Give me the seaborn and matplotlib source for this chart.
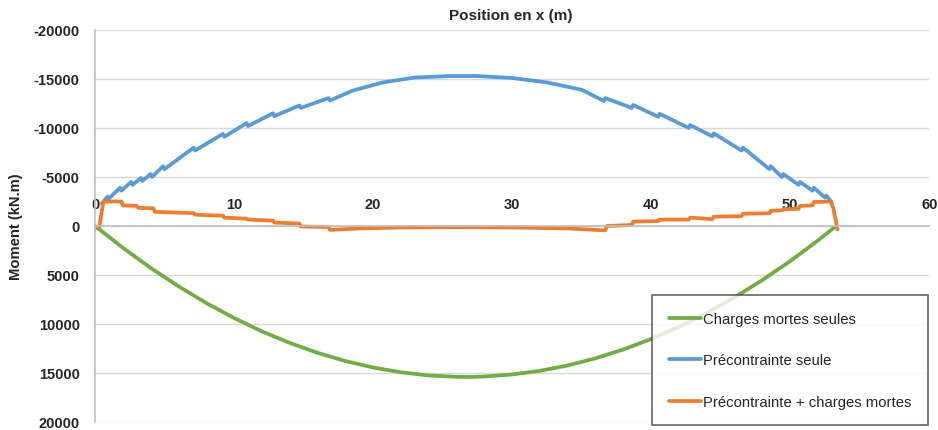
import pandas as pd
import matplotlib
matplotlib.use("Agg")
import matplotlib.pyplot as plt
import seaborn as sns

# values (x in m, moment in kN.m)
green_x = [0, 2, 4, 6, 8, 10, 12, 14, 16, 18, 20, 22, 24, 26, 27, 28, 30, 32,
           34, 36, 38, 40, 42, 44, 46, 48, 50, 52, 53.3]
green_y = [0, 2220, 4280, 6150, 7860, 9390, 10750, 11930, 12940, 13780, 14440,
           14930, 15250, 15390, 15400, 15360, 15150, 14780, 14230, 13500, 12600,
           11530, 10290, 8870, 7280, 5520, 3580, 1470, 0]

blue_x = [0.5, 0.9, 1.0, 1.8, 1.9, 2.6, 2.7, 3.3, 3.4, 4.0, 4.1, 4.9, 5.0, 7.1,
          7.2, 9.2, 9.3, 10.9, 11.0, 12.8, 12.9, 14.7, 14.8, 16.8, 16.9, 18.5,
          20.7, 23.0, 25.5, 27.5, 30.0, 32.5, 35.0, 36.6, 36.7, 38.6, 38.7,
          40.5, 40.6, 42.7, 42.8, 44.4, 44.5, 46.5, 46.6, 48.5, 48.6, 49.4,
          49.5, 50.6, 50.7, 51.6, 51.7, 52.5, 52.6, 53.0]
blue_y = [-2300, -3000, -2800, -3900, -3600, -4500, -4200, -4900, -4600, -5300,
          -5000, -6100, -5800, -8000, -7700, -9400, -9100, -10500, -10200,
          -11500, -11200, -12300, -12050, -13050, -12800, -13800, -14650,
          -15150, -15300, -15300, -15100, -14650, -13900, -12750, -13050,
          -12050, -12350, -11150, -11450, -10000, -10300, -9150, -9450, -7700,
          -8000, -5800, -6100, -5000, -5300, -4200, -4500, -3600, -3900, -2900,
          -3100, -2400]

orange_x = [0.0, 0.3, 0.6, 1.9, 2.0, 3.0, 3.1, 4.2, 4.3, 7.1, 7.2, 9.2, 9.3,
            10.9, 11.0, 12.8, 12.9, 14.7, 14.8, 16.8, 16.9, 19.0, 22.0, 26.0,
            30.0, 34.0, 36.7, 36.8, 38.6, 38.7, 40.5, 40.6, 42.7, 42.8, 44.4,
            44.5, 46.5, 46.6, 48.5, 48.6, 49.4, 49.5, 50.6, 50.7, 51.6, 51.7,
            52.9, 53.1, 53.4]
orange_y = [250, 150, -2500, -2500, -2100, -2050, -1850, -1800, -1450, -1300,
            -1150, -1050, -850, -750, -650, -550, -350, -250, 50, 100, 400, 250,
            150, 120, 150, 250, 450, 0, -100, -450, -500, -650, -650, -850,
            -700, -950, -1000, -1250, -1300, -1550, -1600, -1700, -1750, -2050,
            -2100, -2450, -2500, -1800, 350]

series_names = ["Charges mortes seules", "Précontrainte seule",
                "Précontrainte + charges mortes"]
series_colors = ["#70AD47", "#5B9BD5", "#ED7D31"]


def build_frame():
    parts = []
    for name, xs, ys in zip(series_names,
                            [green_x, blue_x, orange_x],
                            [green_y, blue_y, orange_y]):
        parts.append(pd.DataFrame({"x": xs, "moment": ys, "serie": name}))
    return pd.concat(parts, ignore_index=True)


def main():
    df = build_frame()

    sns.set_theme(style="white")
    plt.rcParams["font.family"] = ["Liberation Sans", "DejaVu Sans"]
    plt.rcParams["axes.unicode_minus"] = False

    fig = plt.figure(figsize=(9.38, 4.31), dpi=100)
    ax = fig.add_axes([0.1013, 0.0186, 0.8894, 0.9095])

    sns.lineplot(data=df, x="x", y="moment", hue="serie", hue_order=series_names,
                 palette=series_colors, sort=False, estimator=None,
                 linewidth=2.7, ax=ax)

    ax.set_xlim(0, 60)
    ax.set_ylim(20000, -20000)
    ax.set_yticks(range(-20000, 20001, 5000))
    ax.set_xticks(range(0, 61, 10))
    ax.yaxis.grid(True, color="#d9d9d9", linewidth=1)
    ax.xaxis.grid(False)
    ax.set_axisbelow(True)

    # x axis drawn along the zero line, labels above it
    ax.xaxis.set_ticks_position("top")
    ax.spines["top"].set_position(("data", 0))
    ax.spines["top"].set_color("#bfbfbf")
    ax.spines["top"].set_linewidth(1.2)
    ax.spines["bottom"].set_visible(False)
    ax.spines["right"].set_visible(False)
    ax.spines["left"].set_color("#bfbfbf")
    ax.spines["left"].set_linewidth(1.2)

    ax.tick_params(axis="x", length=0, pad=11, labelsize=10.5)
    ax.tick_params(axis="y", length=0, pad=11, labelsize=10.5)
    for lab in ax.get_xticklabels() + ax.get_yticklabels():
        lab.set_fontweight("bold")

    ax.set_xlabel("")
    ax.set_ylabel("Moment (kN.m)", fontsize=10.6, fontweight="bold", labelpad=8)
    fig.text(0.545, 0.963, "Position en x (m)", ha="center", va="center",
             fontsize=11, fontweight="bold")

    leg = ax.legend(loc="lower right", bbox_to_anchor=(0.998, -0.008),
                    fontsize=10.7, labelspacing=1.85, handlelength=2.2,
                    handletextpad=0.1, borderpad=1.1, frameon=True,
                    fancybox=False, borderaxespad=0)
    leg.get_frame().set_edgecolor("#404040")
    leg.get_frame().set_linewidth(1.2)
    for line in leg.get_lines():
        line.set_linewidth(2.7)

    fig.savefig("out.png", dpi=100)


if __name__ == "__main__":
    main()
